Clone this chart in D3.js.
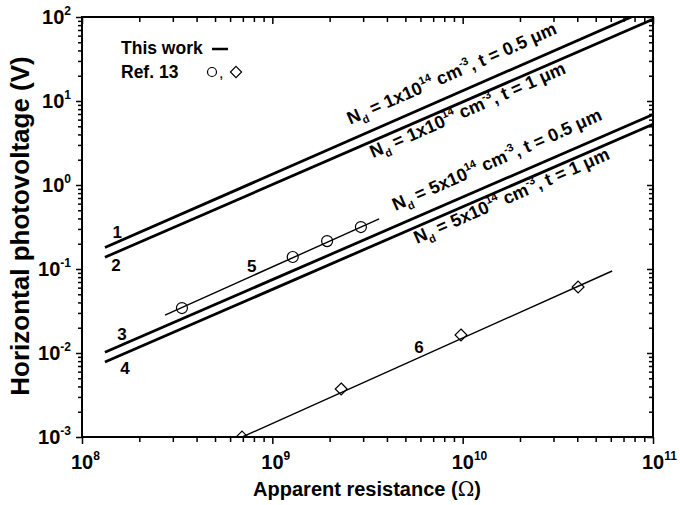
<!DOCTYPE html>
<html><head><meta charset="utf-8">
<script src="https://cdn.jsdelivr.net/npm/d3@7"></script>
<style>
html,body{margin:0;padding:0;background:#fff;}
svg{display:block;}
text{font-family:"Liberation Sans",Arial,sans-serif;font-weight:bold;fill:#000;}
</style></head>
<body>
<svg id="chart" width="680" height="505"></svg>
<script>
// ---------- data ----------
const xDomain = [1e8, 1e11];
const yDomain = [1e-3, 1e2];
const xMajor = [1e8, 1e9, 1e10, 1e11];
const xMajorExp = ["8", "9", "10", "11"];
const yMajor = [1e-3, 1e-2, 1e-1, 1e0, 1e1, 1e2];
const yMajorExp = ["-3", "-2", "-1", "0", "1", "2"];

// model lines (this work): [R, V] end points
const line1 = [[1.32e8, 0.18], [1e11, 130]];
const line2 = [[1.32e8, 0.138], [1e11, 94]];
const line3 = [[1.32e8, 0.0102], [1e11, 6.9]];
const line4 = [[1.32e8, 0.0078], [1e11, 5.3]];
// Ref. 13 fits
const line5 = [[2.73e8, 0.0283], [3.64e9, 0.394]];
const line6 = [[6.8e8, 0.00098], [6.1e10, 0.0947]];
// Ref. 13 points
const circlesR = [3.35e8, 1.28e9, 1.94e9, 2.92e9];
const circlesV = [0.0343, 0.139, 0.215, 0.316];
const diamondsR = [6.93e8, 2.30e9, 9.8e9, 4.04e10];
const diamondsV = [0.00100, 0.00373, 0.0164, 0.061];
// curve numbers
const numText = ["1", "2", "3", "4", "5", "6"];
const numR = [1.53e8, 1.51e8, 1.62e8, 1.68e8, 7.8e8, 5.9e9];
const numV = [0.275, 0.109, 0.0164, 0.0066, 0.106, 0.0115];
// rotated annotations (start of text along each line)
const annNd = ["1", "1", "5", "5"];
const annT = ["0.5", "1", "0.5", "1"];
const annR = [2.75e9, 3.13e9, 4.75e9, 5.32e9];
const annLine = [line1, line2, line3, line4];
const annSide = [-1, 1, -1, 1];

// ---------- chart ----------
const svg = d3.select("#chart");
const x = d3.scaleLog().domain(xDomain).range([82, 653]);
const y = d3.scaleLog().domain(yDomain).range([437, 17]);

svg.append("defs").append("clipPath").attr("id", "clip")
  .append("rect").attr("x", 82).attr("y", 17).attr("width", 571).attr("height", 420);

const plot = svg.append("g").attr("clip-path", "url(#clip)");
const lineGen = d3.line().x(d => x(d[0])).y(d => y(d[1]));

[line1, line2, line3, line4].forEach(l => {
  plot.append("path").attr("d", lineGen(l)).attr("fill", "none")
    .attr("stroke", "#000").attr("stroke-width", 2.8);
});
[line5, line6].forEach(l => {
  plot.append("path").attr("d", lineGen(l)).attr("fill", "none")
    .attr("stroke", "#000").attr("stroke-width", 1.4);
});
plot.selectAll("circle.pt").data(circlesR).enter().append("circle")
  .attr("cx", d => x(d)).attr("cy", (d, i) => y(circlesV[i])).attr("r", 5.5)
  .attr("fill", "none").attr("stroke", "#000").attr("stroke-width", 1.2);
plot.selectAll("path.dm").data(diamondsR).enter().append("path")
  .attr("d", d3.symbol().type(d3.symbolDiamond2).size(90))
  .attr("transform", (d, i) => `translate(${x(d)},${y(diamondsV[i])})`)
  .attr("fill", "none").attr("stroke", "#000").attr("stroke-width", 1.2);

// axes
function minorTicks(dom) {
  const out = [];
  for (let e = Math.log10(dom[0]); e < Math.log10(dom[1]); e++)
    for (let k = 2; k <= 9; k++) out.push(k * Math.pow(10, e));
  return out;
}
const xMinor = minorTicks(xDomain), yMinor = minorTicks(yDomain);
function addAxis(axisFn, scale, ticks, size, tr) {
  const g = svg.append("g").attr("transform", tr)
    .call(axisFn(scale).tickValues(ticks).tickSize(size).tickFormat(""));
  g.selectAll(".domain").remove();
  g.selectAll("line").attr("stroke", "#000").attr("stroke-width", 1.5);
}
addAxis(d3.axisBottom, x, xMajor, 7, "translate(0,437)");
addAxis(d3.axisBottom, x, xMinor, 5, "translate(0,437)");
addAxis(d3.axisTop, x, xMajor, -7, "translate(0,17)");
addAxis(d3.axisTop, x, xMinor, -5, "translate(0,17)");
addAxis(d3.axisLeft, y, yMajor, 6, "translate(82,0)");
addAxis(d3.axisLeft, y, yMinor, 4, "translate(82,0)");
addAxis(d3.axisRight, y, yMajor, -6, "translate(653,0)");
addAxis(d3.axisRight, y, yMinor, -4, "translate(653,0)");
svg.append("rect").attr("x", 82).attr("y", 17).attr("width", 571).attr("height", 420)
  .attr("fill", "none").attr("stroke", "#000").attr("stroke-width", 2);

// tick labels
xMajor.forEach((v, i) => {
  const t = svg.append("text").attr("x", x(v) - 11).attr("y", 469).style("font-size", "20px");
  t.append("tspan").text("10");
  t.append("tspan").attr("dy", -9).style("font-size", "12px").text(xMajorExp[i]);
});
yMajor.forEach((v, i) => {
  const t = svg.append("text").attr("x", 71).attr("y", y(v) + 7)
    .attr("text-anchor", "end").style("font-size", "20px");
  t.append("tspan").text("10");
  t.append("tspan").attr("dy", -9).style("font-size", "12px").text(yMajorExp[i]);
});

// axis titles
const xt = svg.append("text").attr("x", 367).attr("y", 496).attr("text-anchor", "middle")
  .style("font-size", "20px");
xt.append("tspan").text("Apparent resistance (");
xt.append("tspan").style("font-family", "'DejaVu Serif',serif").style("font-weight", "normal").text("Ω");
xt.append("tspan").text(")");
svg.append("text").attr("transform", "translate(29,226) rotate(-90)")
  .attr("text-anchor", "middle").style("font-size", "26px")
  .text("Horizontal photovoltage (V)");

// legend
svg.append("text").attr("x", 121).attr("y", 54).style("font-size", "17.5px").text("This work");
svg.append("line").attr("x1", 212).attr("x2", 228).attr("y1", 49).attr("y2", 49)
  .attr("stroke", "#000").attr("stroke-width", 2.5);
svg.append("text").attr("x", 121).attr("y", 78).style("font-size", "17.5px").text("Ref. 13");
svg.append("circle").attr("cx", 212).attr("cy", 72).attr("r", 4.5)
  .attr("fill", "none").attr("stroke", "#000").attr("stroke-width", 1.2);
svg.append("text").attr("x", 219).attr("y", 78).style("font-size", "16px").style("font-weight", "normal").text(",");
svg.append("path").attr("d", d3.symbol().type(d3.symbolDiamond2).size(80))
  .attr("transform", "translate(236,72)")
  .attr("fill", "none").attr("stroke", "#000").attr("stroke-width", 1.2);

// curve numbers
numText.forEach((s, i) => {
  svg.append("text").attr("x", x(numR[i])).attr("y", y(numV[i]))
    .attr("text-anchor", "middle").attr("dominant-baseline", "central")
    .style("font-size", "17px").text(s);
});

// rotated annotations
const angle = Math.atan2(y(10) - y(1), x(10) - x(1)) * 180 / Math.PI;
annR.forEach((r, i) => {
  const l = annLine[i];
  const k = Math.log(l[1][1] / l[0][1]) / Math.log(l[1][0] / l[0][0]);
  const v = l[0][1] * Math.pow(r / l[0][0], k);
  const g = svg.append("g")
    .attr("transform", `translate(${x(r)},${y(v)}) rotate(${angle})`);
  const t = g.append("text").attr("x", 0).attr("y", annSide[i] < 0 ? -14 : 16)
    .attr("text-anchor", "start").style("font-size", "18px");
  t.append("tspan").text("N");
  t.append("tspan").attr("dy", 5).style("font-size", "11px").text("d");
  t.append("tspan").attr("dy", -5).text(" = " + annNd[i] + "x10");
  t.append("tspan").attr("dy", -8).style("font-size", "11px").text("14");
  t.append("tspan").attr("dy", 8).text(" cm");
  t.append("tspan").attr("dy", -8).style("font-size", "11px").text("-3");
  t.append("tspan").attr("dy", 8).text(", t = " + annT[i] + " μm");
});
</script>
</body></html>
